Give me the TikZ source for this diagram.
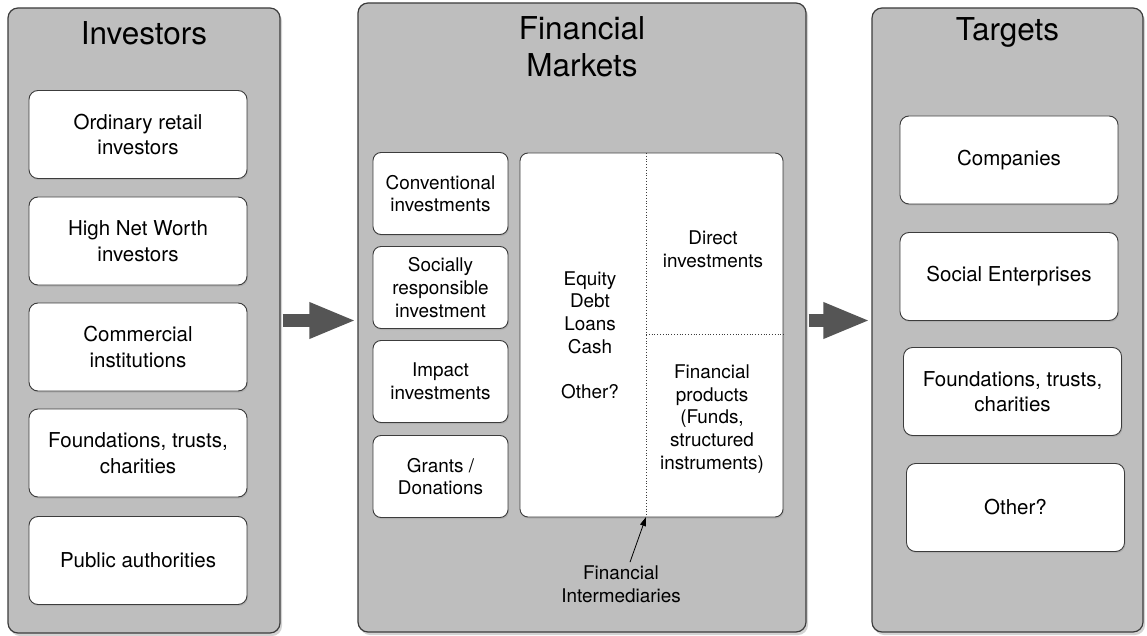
\documentclass[tikz,border=0pt]{standalone}
\usepackage{fontspec}
\setmainfont{TeX Gyre Heros}
\usetikzlibrary{shadows,arrows.meta}
\definecolor{panelgray}{RGB}{190,190,190}
\definecolor{rimgray}{RGB}{60,60,60}
\definecolor{arrowgray}{RGB}{85,85,85}

\begin{document}
\begin{tikzpicture}[x=1pt,y=-1pt,
        panel/.style={draw=rimgray,line width=1.2pt,fill=panelgray,rounded corners=10pt,
            drop shadow={shadow xshift=2pt,shadow yshift=-3pt,opacity=.35}},
        heading/.style={font=\fontsize{31.5}{37}\selectfont,align=center},
        item/.style={draw=rimgray,line width=.9pt,fill=white,rounded corners=9pt,align=center,
            font=\fontsize{20.5}{25.5}\selectfont,minimum width=218pt,minimum height=88pt,
            drop shadow={shadow xshift=1pt,shadow yshift=-1.5pt,opacity=.25}},
        small/.style={font=\fontsize{18.9}{22.6}\selectfont,align=center},
        choice/.style={item,small,rounded corners=8pt,minimum width=135pt,minimum height=82pt},
        flow/.style={arrowgray,line width=13pt,-{Triangle[length=47pt,width=33pt]}},
        cut/.style={rimgray,dotted,line width=.8pt}]
    \useasboundingbox (0,0) rectangle (1147,636);

    % investors
    \node[panel,minimum width=272pt,minimum height=625pt] (inv) at (144,320.5) {};
    \node[heading] (invtitle) at (144,33) {Investors};
    \node[item] (retail) at (138,134.5) {Ordinary retail\\investors};
    \node[item] (hnw) at (138,241) {High Net Worth\\investors};
    \node[item] (comm) at (138,347) {Commercial\\institutions};
    \node[item] (found) at (138,453) {Foundations, trusts,\\charities};
    \node[item] (public) at (138,560.5) {Public authorities};

    % financial markets
    \node[panel,minimum width=448pt,minimum height=629pt] (mkt) at (582,317.5) {};
    \node[heading] (mkttitle) at (582,47) {Financial\\Markets};
    \node[choice] (conv) at (440.5,193.5) {Conventional\\investments};
    \node[choice] (sri) at (440.5,287.5) {Socially\\responsible\\investment};
    \node[choice] (impact) at (440.5,381.5) {Impact\\investments};
    \node[choice] (grants) at (440.5,476.5) {Grants /\\Donations};
    \node[choice,minimum width=263pt,minimum height=364pt] (mix) at (651.5,335) {};
    \coordinate (cuttop) at (646,153);
    \coordinate (cutmid) at (646,334);
    \coordinate (cutbot) at (646,517);
    \draw[cut] (cuttop) -- (cutbot);
    \draw[cut] (cutmid) -- (cutmid -| mix.east);
    \node[small] (kinds) at (590,335) {Equity\\Debt\\Loans\\Cash\\[22.6pt]Other?};
    \node[small] (direct) at (713,249) {Direct\\investments};
    \node[small] (products) at (712,419) {Financial\\products\\(Funds,\\structured\\instruments)};
    \node[small] (interm) at (621,584) {Financial\\Intermediaries};
    \draw[-{Triangle[length=9pt,width=6pt]},line width=.8pt] ([xshift=9pt]interm.north) -- (cutbot);

    % targets
    \node[panel,minimum width=271pt,minimum height=624pt] (tgt) at (1007.5,320) {};
    \node[heading] (tgttitle) at (1007.5,32) {Targets};
    \node[item] (comp) at (1009,160) {Companies};
    \node[item] (social) at (1009,276.5) {Social Enterprises};
    \node[item] (trusts) at (1012.5,391.5) {Foundations, trusts,\\charities};
    \node[item] (other) at (1015.5,507.5) {Other?};

    \draw[flow] ([xshift=2pt]inv.east) -- ([xshift=-1pt]inv.east -| mkt.west);
    \draw[flow] ([xshift=2pt]inv.east -| mkt.east) -- ([xshift=-1pt]inv.east -| tgt.west);
\end{tikzpicture}
\end{document}
